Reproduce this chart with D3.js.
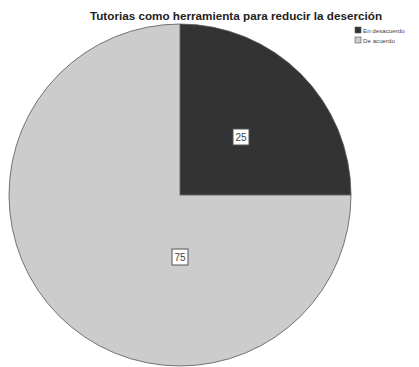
<!DOCTYPE html>
<html><head><meta charset="utf-8">
<script src="https://cdn.jsdelivr.net/npm/d3@7"></script>
<style>html,body{margin:0;padding:0;background:#fff;overflow:hidden}</style>
</head><body>
<svg id="c" width="419" height="367"></svg>
<script>
const categories = ["En desacuerdo", "De acuerdo"];
const values = [25, 75];
const colors = ["#333333", "#cccccc"];
const title = "Tutorias como herramienta para reducir la deserción";

const svg = d3.select("#c");
const cx = 180, cy = 195, r = 171;

svg.append("text").attr("x", 236).attr("y", 20).attr("text-anchor", "middle")
  .attr("font-family", "Liberation Sans, Arial, sans-serif").attr("font-weight", "bold")
  .attr("font-size", 11.7).attr("fill", "#222").text(title);

const pie = d3.pie().sort(null).value(d => d)(values);
const arc = d3.arc().innerRadius(0).outerRadius(r);
const g = svg.append("g").attr("transform", `translate(${cx},${cy})`);
g.selectAll("path").data(pie).join("path")
  .attr("d", arc).attr("fill", (d, i) => colors[i])
  .attr("stroke", "#555").attr("stroke-width", 0.8);

const labelPos = [[61, -58], [0, 62]];
const lab = g.selectAll("g.lab").data(pie).join("g").attr("class", "lab")
  .attr("transform", (d, i) => `translate(${labelPos[i][0]},${labelPos[i][1]})`);
lab.append("rect").attr("x", -8).attr("y", -8).attr("width", 16).attr("height", 16)
  .attr("fill", "#fff").attr("stroke", "#555").attr("stroke-width", 1);
lab.append("text").attr("text-anchor", "middle").attr("dy", "0.36em")
  .attr("font-family", "Liberation Sans, Arial, sans-serif").attr("font-size", 10)
  .attr("fill", "#444").text((d, i) => values[i]);

const leg = svg.append("g").selectAll("g").data(categories).join("g")
  .attr("transform", (d, i) => `translate(355,${27 + i * 10})`);
leg.append("rect").attr("width", 6).attr("height", 6)
  .attr("fill", (d, i) => colors[i]).attr("stroke", "#555").attr("stroke-width", 0.6);
leg.append("text").attr("x", 8).attr("y", 5.5)
  .attr("font-family", "Liberation Sans, Arial, sans-serif").attr("font-size", 6.2)
  .attr("fill", "#444").text(d => d);
</script>
</body></html>
